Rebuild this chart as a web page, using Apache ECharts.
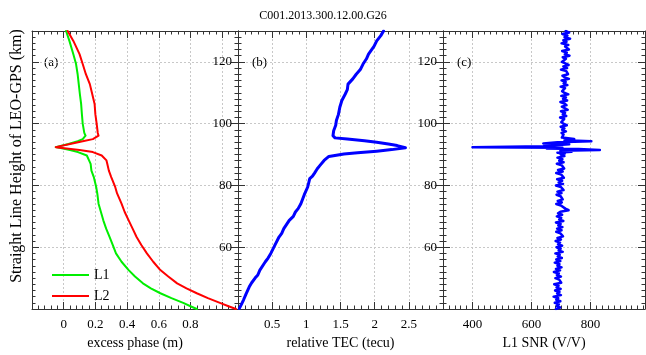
<!DOCTYPE html>
<html><head><meta charset="utf-8">
<script src="https://cdn.jsdelivr.net/npm/echarts@6/dist/echarts.min.js"></script>
<style>html,body{margin:0;padding:0;background:#fff}#chart{width:646px;height:355px}</style>
</head><body><div id="chart"></div>
<script>
const chartTitle = 'C001.2013.300.12.00.G26';
const heightAxisName = 'Straight Line Height of LEO-GPS (km)';
const panelNames = ['(a)', '(b)', '(c)'];
const xAxisNames = ['excess phase (m)', 'relative TEC (tecu)', 'L1 SNR (V/V)'];
const seriesNames = ['L1', 'L2', 'TEC', 'SNR'];

const heightTicks = [60, 80, 100, 120];
const phaseTicks = [0, 0.2, 0.4, 0.6, 0.8];
const tecTicks = [0.5, 1, 1.5, 2, 2.5];
const snrTicks = [400, 600, 800];

const phaseHeights = [130, 126.8, 122.5, 119.3, 116, 112.8, 109.6, 106.4, 103, 100, 97, 96.1, 95, 94.3, 93.4, 92.4, 91.5, 90.8, 89.7, 88.1, 87, 84.8, 82.7, 79.5, 77.4, 74.1, 71.4, 68.7, 66, 63.3, 60.7, 58, 55.3, 52.6, 50.5, 48.3, 46.7, 45.1, 43.5, 41.9, 40.9, 40];
const phaseL1 = [0.015, 0.036, 0.061, 0.078, 0.088, 0.095, 0.102, 0.11, 0.115, 0.12, 0.13, 0.138, 0.12, 0.089, 0.03, -0.05, 0.04, 0.09, 0.146, 0.16, 0.17, 0.175, 0.19, 0.205, 0.212, 0.22, 0.235, 0.25, 0.268, 0.29, 0.31, 0.33, 0.365, 0.41, 0.45, 0.5, 0.55, 0.61, 0.68, 0.758, 0.8, 0.84];
const phaseL2 = [0.025, 0.061, 0.1, 0.12, 0.14, 0.165, 0.18, 0.195, 0.2, 0.208, 0.215, 0.22, 0.184, 0.12, 0.04, -0.05, 0.1, 0.184, 0.24, 0.27, 0.275, 0.285, 0.3, 0.325, 0.337, 0.365, 0.385, 0.41, 0.435, 0.46, 0.49, 0.525, 0.565, 0.61, 0.66, 0.716, 0.775, 0.84, 0.91, 0.99, 1.04, 1.087];

const tecHeights = [130, 128.5, 126.8, 125, 122.5, 121, 119.3, 117.5, 116, 114.5, 112.8, 111, 109.6, 107.5, 105.3, 103, 101, 99.5, 97.7, 96.1, 95.4, 95, 94.5, 94, 93.4, 92.9, 92.2, 91.6, 91.1, 90.6, 90.2, 89.4, 88.1, 86.5, 85.4, 84, 83, 82.2, 79.5, 77, 74.1, 72.5, 71.4, 70, 68.7, 66, 64.5, 63.3, 60.7, 58, 56.5, 55.3, 52.6, 51, 50, 48.5, 47.2, 45, 42.9, 41.5, 40.2];
const tecValues = [2.13, 2.09, 2.03, 1.99, 1.91, 1.88, 1.83, 1.79, 1.73, 1.68, 1.61, 1.6, 1.57, 1.52, 1.49, 1.47, 1.44, 1.43, 1.4, 1.39, 1.42, 1.6, 1.85, 2.03, 2.2, 2.33, 2.45, 2.25, 2.03, 1.75, 1.55, 1.33, 1.26, 1.2, 1.16, 1.12, 1.09, 1.05, 1.02, 0.97, 0.92, 0.88, 0.84, 0.81, 0.75, 0.67, 0.64, 0.6, 0.54, 0.48, 0.44, 0.4, 0.32, 0.29, 0.25, 0.2, 0.165, 0.12, 0.08, 0.05, 0.02];

const snrHeights = [130, 129.5, 129, 128.5, 128, 127.5, 127, 126.5, 126, 125.5, 125, 124.5, 124, 123.5, 123, 122.5, 122, 121.5, 121, 120.5,
  120, 119.5, 119, 118.5, 118, 117.5, 117, 116.5, 116, 115.5, 115, 114.5, 114, 113.5, 113, 112.5, 112, 111.5, 111, 110.5,
  110, 109.5, 109, 108.5, 108, 107.5, 107, 106.5, 106, 105.5, 105, 104.5, 104, 103.5, 103, 102.5, 102, 101.5, 101, 100.5,
  100, 99.5, 99, 98.5, 98, 97.5, 97, 96.5, 96,
  95.5, 95, 94.6, 94.3, 94, 93.6, 93.3, 93, 92.7, 92.4, 92.2, 92, 91.8, 91.5, 91.2, 90.9, 90.6, 90.3,
  90, 89.5, 89, 88.5, 88, 87.5, 87, 86.5, 86, 85.5, 85, 84.5, 84, 83.5, 83, 82.5, 82, 81.5, 81, 80.5,
  80, 79.5, 79, 78.5, 78, 77.5, 77, 76.5, 76, 75.5, 75, 74.5, 74, 73.5, 73, 72.5, 72, 71.5, 71, 70.5,
  70, 69.5, 69, 68.5, 68, 67.5, 67, 66.5, 66, 65.5, 65, 64.5, 64, 63.5, 63, 62.5, 62, 61.5, 61, 60.5,
  60, 59.5, 59, 58.5, 58, 57.5, 57, 56.5, 56, 55.5, 55, 54.5, 54, 53.5, 53, 52.5, 52, 51.5, 51, 50.5,
  50, 49.5, 49, 48.5, 48, 47.5, 47, 46.5, 46, 45.5, 45, 44.5, 44, 43.5, 43, 42.5, 42, 41.5, 41, 40.5, 40];
const snrValues = [716, 728, 705, 722, 712, 731, 708, 719, 702, 725, 714, 709, 727, 704, 720, 713, 729, 706, 717, 723,
  703, 715, 726, 708, 721, 700, 718, 712, 724, 705, 713, 727, 702, 716, 709, 722, 699, 714, 720, 704,
  711, 725, 701, 717, 707, 721, 698, 712, 719, 703, 709, 723, 700, 714, 706, 718, 697, 711, 716, 701,
  708, 720, 699, 712, 704, 717, 702, 709, 715,
  703, 745, 712, 803, 688, 640, 728, 679, 640, 400, 705, 652, 760, 832, 698, 736, 688, 713,
  699, 712, 688, 705, 694, 709, 686, 703, 697, 711, 690, 706, 684, 701, 695, 710, 687, 704, 692, 707,
  683, 700, 696, 709, 688, 702, 685, 699, 693, 706, 689, 703, 684, 700, 697, 715, 726, 698, 690, 704,
  686, 701, 694, 708, 683, 699, 691, 705, 687, 702, 684, 698, 693, 707, 688, 700, 682, 697, 690, 704,
  685, 699, 692, 706, 681, 696, 689, 703, 684, 698, 679, 695, 688, 702, 683, 697, 676, 693, 686, 700,
  681, 694, 688, 701, 677, 692, 685, 699, 680, 695, 687, 700, 675, 691, 684, 698, 679, 693, 686, 697, 683];

const FONT = 'Liberation Serif';
const AXC = '#333';
function has(list, v) { return list.some(function (t) { return Math.abs(t - v) < 1e-9; }); }

const grids = [
  { left: 32, top: 31, width: 206, height: 278 },
  { left: 238, top: 31, width: 205, height: 278 },
  { left: 443, top: 31, width: 202, height: 278 }
];
const xCfg = [
  { min: -0.2, max: 1.1, major: 0.2, minor: 0.04, labels: phaseTicks },
  { min: 0, max: 3, major: 0.5, minor: 0.1, labels: tecTicks },
  { min: 300, max: 985, major: undefined, splitNumber: 3, minor: 20, labels: snrTicks }
];

const xAxes = [], yAxes = [];
grids.forEach(function (gr, g) {
  const c = xCfg[g];
  const base = { type: 'value', gridIndex: g, min: c.min, max: c.max };
  xAxes.push(Object.assign({}, base, {
    position: 'bottom', interval: c.major, splitNumber: c.splitNumber,
    name: xAxisNames[g], nameLocation: 'middle', nameGap: 27,
    nameTextStyle: { fontFamily: FONT, fontSize: 14, color: '#000' },
    axisLine: { show: true, onZero: false, lineStyle: { color: AXC, width: 1 } },
    axisTick: { show: true, inside: true, length: 7, lineStyle: { color: AXC } },
    axisLabel: { show: true, margin: 9, fontFamily: FONT, fontSize: 13, color: '#000',
      formatter: function (v) { return has(c.labels, v) ? String(v) : ''; } },
    splitLine: { show: true, lineStyle: { color: '#c8c8c8', type: [2, 2], width: 1 } }
  }));
  xAxes.push(Object.assign({}, base, {
    position: 'top', interval: c.major, splitNumber: c.splitNumber,
    axisLine: { show: true, onZero: false, lineStyle: { color: AXC, width: 1 } },
    axisTick: { show: true, inside: true, length: 7, lineStyle: { color: AXC } },
    axisLabel: { show: false }, splitLine: { show: false }
  }));
  ['bottom', 'top'].forEach(function (pos) {
    xAxes.push(Object.assign({}, base, {
      position: pos, interval: c.minor,
      axisLine: { show: false, onZero: false },
      axisTick: { show: true, inside: true, length: 3.5, lineStyle: { color: AXC } },
      axisLabel: { show: false }, splitLine: { show: false }
    }));
  });
  const ybase = { type: 'value', gridIndex: g, min: 40, max: 130 };
  yAxes.push(Object.assign({}, ybase, {
    position: 'left', interval: 20,
    axisLine: { show: true, onZero: false, lineStyle: { color: AXC, width: 1 } },
    axisTick: { show: true, inside: true, length: 7, lineStyle: { color: AXC } },
    axisLabel: { show: g > 0, margin: 6, fontFamily: FONT, fontSize: 13, color: '#000',
      formatter: function (v) { return has(heightTicks, v) ? String(v) : ''; } },
    splitLine: { show: true, lineStyle: { color: '#c8c8c8', type: [2, 2], width: 1 } }
  }));
  yAxes.push(Object.assign({}, ybase, {
    position: 'right', interval: 20,
    axisLine: { show: true, onZero: false, lineStyle: { color: AXC, width: 1 } },
    axisTick: { show: true, inside: true, length: 7, lineStyle: { color: AXC } },
    axisLabel: { show: false }, splitLine: { show: false }
  }));
  ['left', 'right'].forEach(function (pos) {
    yAxes.push(Object.assign({}, ybase, {
      position: pos, interval: 2,
      axisLine: { show: false, onZero: false },
      axisTick: { show: true, inside: true, length: 3.5, lineStyle: { color: AXC } },
      axisLabel: { show: false }, splitLine: { show: false }
    }));
  });
});

function pairs(xs, hs) { return hs.map(function (h, i) { return [xs[i], h]; }); }
function lineSeries(name, g, data, color, width) {
  return { name: name, type: 'line', xAxisIndex: 4 * g, yAxisIndex: 4 * g, data: data,
    showSymbol: false, symbol: 'none', animation: false, clip: true,
    lineStyle: { color: color, width: width, join: 'round', cap: 'round' }, itemStyle: { color: color } };
}

const chart = echarts.init(document.getElementById('chart'), null, { renderer: 'canvas' });
chart.setOption({
  animation: false,
  backgroundColor: '#fff',
  title: { text: chartTitle, left: 'center', top: 5,
    textStyle: { fontFamily: FONT, fontSize: 12, fontWeight: 'normal', color: '#000' } },
  grid: grids.map(function (g) { return Object.assign({ outerBoundsMode: 'none', containLabel: false }, g); }),
  xAxis: xAxes,
  yAxis: yAxes,
  legend: { data: ['L1', 'L2'], orient: 'vertical', left: 47, top: 262, icon: 'rect',
    itemWidth: 37, itemHeight: 2, itemGap: 5,
    textStyle: { fontFamily: FONT, fontSize: 14, color: '#000', lineHeight: 16 } },
  graphic: [
    { type: 'text', left: 44, top: 56, style: { text: panelNames[0], font: '13px "Liberation Serif"', fill: '#000' } },
    { type: 'text', left: 252, top: 56, style: { text: panelNames[1], font: '13px "Liberation Serif"', fill: '#000' } },
    { type: 'text', left: 457, top: 56, style: { text: panelNames[2], font: '13px "Liberation Serif"', fill: '#000' } },
    { type: 'text', x: 17, y: 156, rotation: Math.PI / 2,
      style: { text: heightAxisName, font: '16px "Liberation Serif"', fill: '#000', align: 'center', verticalAlign: 'middle' } }
  ],
  series: [
    lineSeries(seriesNames[0], 0, pairs(phaseL1, phaseHeights), '#00ee00', 2),
    lineSeries(seriesNames[1], 0, pairs(phaseL2, phaseHeights), '#ff0000', 2),
    lineSeries(seriesNames[2], 1, pairs(tecValues, tecHeights), '#0000ff', 3),
    lineSeries(seriesNames[3], 2, pairs(snrValues, snrHeights), '#0000ff', 2.5)
  ]
});
</script></body></html>
